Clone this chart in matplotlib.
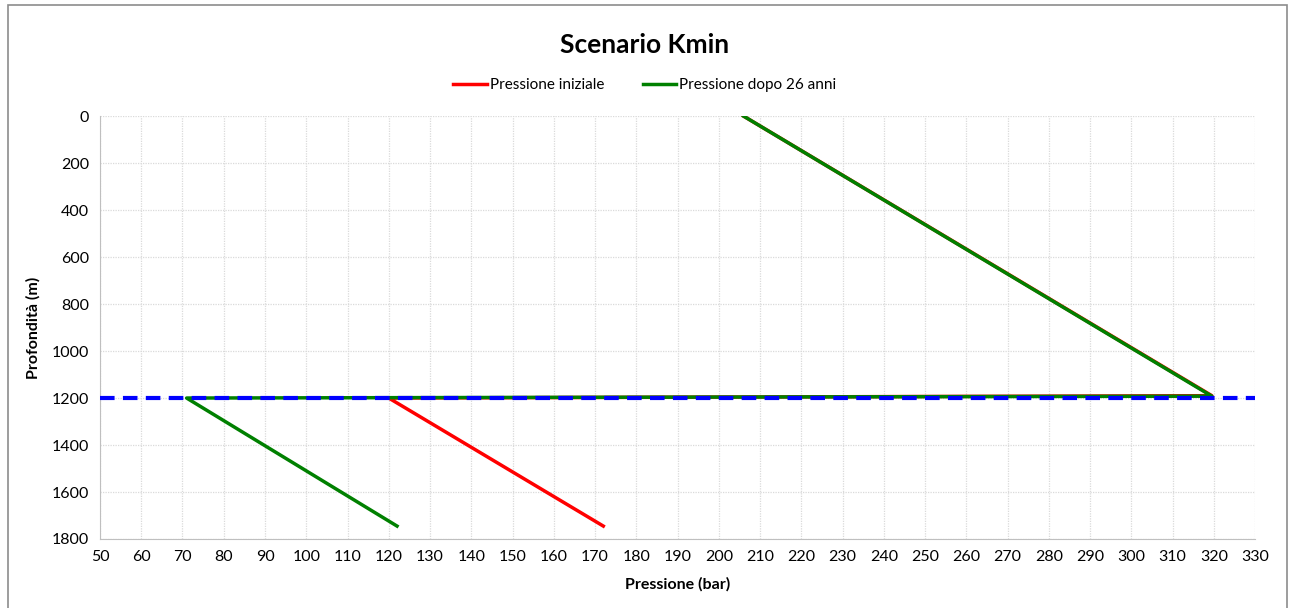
import matplotlib.pyplot as plt
from matplotlib.patches import Rectangle

# Pressure profiles (bar) against depth (m)
depth_iniziale = [0, 1190, 1200, 1745]
press_iniziale = [206, 319.5, 120, 172]

depth_dopo = [0, 1192, 1200, 1745]
press_dopo = [206, 319.5, 71, 122]

depth_interface = 1200

plt.rcParams["font.family"] = ["Lato", "DejaVu Sans"]

fig = plt.figure(figsize=(12.9, 6.08), dpi=100)
ax = fig.add_axes([0.0775, 0.1135, 0.8955, 0.6955])

# chart area frame
fig.patches.append(Rectangle((0.006, -0.01), 0.992, 1.002, transform=fig.transFigure,
                             fill=False, edgecolor="#8c8c8c", linewidth=1.2))

ax.plot(press_iniziale, depth_iniziale, color="red", lw=2.5, label="Pressione iniziale")
ax.plot(press_dopo, depth_dopo, color="green", lw=2.5, label="Pressione dopo 26 anni")
ax.axhline(depth_interface, color="blue", lw=3, linestyle=(0, (3.5, 2)), zorder=4)

ax.set_xlim(50, 330)
ax.set_ylim(1800, 0)
ax.set_xticks(range(50, 331, 10))
ax.set_yticks(range(0, 1801, 200))
ax.tick_params(length=0, labelsize=11.5, pad=8)

ax.grid(True, color="#dadada", linestyle=(0, (1, 1)), linewidth=0.9)
ax.set_axisbelow(True)
for s in ["top", "right"]:
    ax.spines[s].set_visible(False)
for s in ["left", "bottom"]:
    ax.spines[s].set_color("#bfbfbf")

ax.set_xlabel("Pressione (bar)", fontsize=11.5, fontweight="bold", labelpad=9)
ax.set_ylabel("Profondità (m)", fontsize=11.5, fontweight="bold", labelpad=8)

fig.text(0.5, 0.926, "Scenario Kmin", ha="center", va="center", fontsize=19, fontweight="bold")
fig.legend(loc="center", bbox_to_anchor=(0.5, 0.86), ncol=2, frameon=False, fontsize=11,
           handlelength=2.2, handletextpad=0.2, columnspacing=2.5)

fig.savefig("out.png", dpi=100)
